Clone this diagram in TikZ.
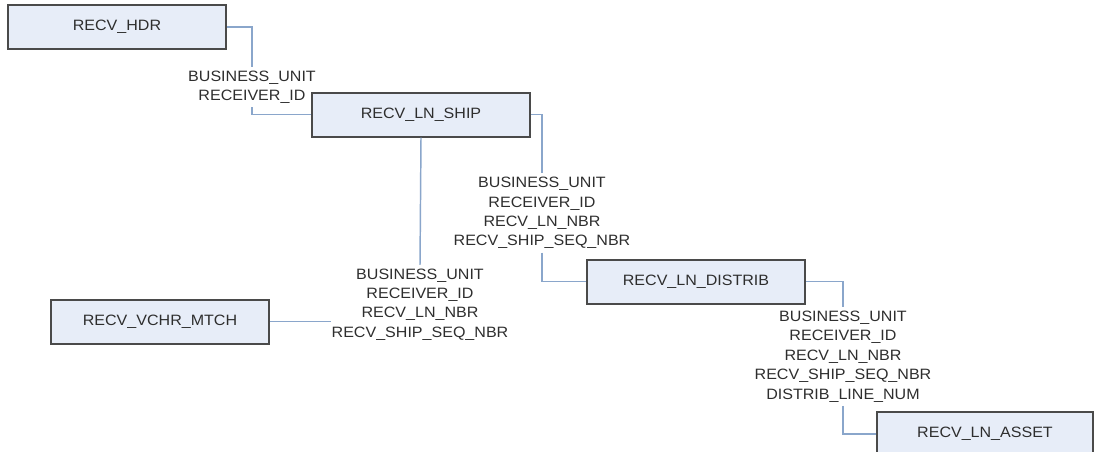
\documentclass[tikz,border=0pt]{standalone}
\usepackage{fontspec}
\setmainfont{Liberation Sans}[FakeStretch=1.07]
\begin{document}
\begin{tikzpicture}[x=0.75pt,y=-0.75pt,
  tbl/.style={draw=boxline,line width=1.5pt,fill=boxfill,minimum width=163.5pt,minimum height=33pt,inner sep=0pt,text=txt,font=\fontsize{11.25}{14.6}\selectfont},
  keys/.style={align=center,inner xsep=0pt,inner ysep=2.5pt,text=txt,font=\fontsize{11.25}{14.6}\selectfont},
  link/.style={draw=linkc,line width=1.1pt}]
\definecolor{boxline}{HTML}{4A4A4A}
\definecolor{boxfill}{HTML}{E7EDF8}
\definecolor{linkc}{HTML}{8AA6CB}
\definecolor{txt}{HTML}{2E2E2E}
\clip (0,0) rectangle (1095,451);
\fill[white] (0,0) rectangle (1095,451);
\node[tbl] (hdr) at (117,27) {RECV\_HDR};
\node[tbl] (ship) at (421,114.5) {RECV\_LN\_SHIP};
\node[tbl] (vchr) at (160,321.5) {RECV\_VCHR\_MTCH};
\node[tbl] (distrib) at (696,281.5) {RECV\_LN\_DISTRIB};
\node[tbl,minimum width=162pt] (asset) at (985,434) {RECV\_LN\_ASSET};
\node[keys] (k1) at (252,87) {BUSINESS\_UNIT\\RECEIVER\_ID};
\node[keys] (k2) at (542,213) {BUSINESS\_UNIT\\RECEIVER\_ID\\RECV\_LN\_NBR\\RECV\_SHIP\_SEQ\_NBR};
\node[keys] (k3) at (420,304.5) {BUSINESS\_UNIT\\RECEIVER\_ID\\RECV\_LN\_NBR\\RECV\_SHIP\_SEQ\_NBR};
\node[keys] (k4) at (843,356.5) {BUSINESS\_UNIT\\RECEIVER\_ID\\RECV\_LN\_NBR\\RECV\_SHIP\_SEQ\_NBR\\DISTRIB\_LINE\_NUM};
\draw[link] (hdr.east) -| (k1.north);
\draw[link] (k1.south) |- (ship.west);
\draw[link] (ship.east) -| (k2.north);
\draw[link] (k2.south) |- (distrib.west);
\draw[link] (ship.south) -- (k3.north);
\draw[link] (vchr.east) -- (k3.west |- vchr.east);
\draw[link] (distrib.east) -| (k4.north);
\draw[link] (k4.south) |- (asset.west);
\end{tikzpicture}
\end{document}
